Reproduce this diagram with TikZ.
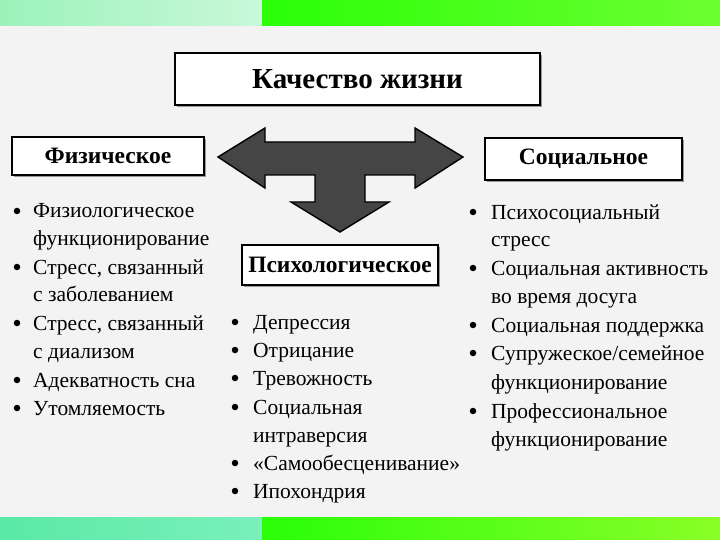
\documentclass[tikz,border=0pt]{standalone}
\usepackage{fontspec}
\setmainfont{Liberation Serif}
\usetikzlibrary{shadows}
\definecolor{bgc}{HTML}{F3F3F3}
\definecolor{mintA}{HTML}{9CF2BA}
\definecolor{mintB}{HTML}{C9F8DA}
\definecolor{limeA}{HTML}{2AFF08}
\definecolor{limeB}{HTML}{6CFF30}
\definecolor{tealA}{HTML}{5AE9A6}
\definecolor{tealB}{HTML}{7AF0BC}
\definecolor{arrowc}{HTML}{454545}
\tikzset{
  hbox/.style={draw=black, line width=1.6pt, fill=white, inner sep=0pt,
    font=\fontsize{23.5}{26}\selectfont\bfseries,
    drop shadow={shadow xshift=2pt, shadow yshift=-2pt, fill=gray!80, opacity=1}},
  item/.style={anchor=base west, inner sep=0pt, font=\fontsize{21.5}{24}\selectfont},
  dot/.style={circle, fill=black, inner sep=0pt, minimum size=6.5pt}
}
\begin{document}
\begin{tikzpicture}[x=1pt,y=-1pt]
\useasboundingbox (0,0) rectangle (720,540);
\fill[bgc] (0,0) rectangle (720,540);
% green bands
\shade[left color=mintA, right color=mintB] (0,0) rectangle (262,26);
\shade[left color=limeA, right color=limeB] (262,0) rectangle (720,26);
\shade[left color=tealA, right color=tealB] (0,517) rectangle (262,540);
\shade[left color=limeA, right color=limeB!80!yellow] (262,517) rectangle (720,540);

% boxes
\node[hbox, minimum width=365pt, minimum height=52pt, font=\fontsize{29}{32}\selectfont\bfseries] (main) at (357.5,79) {Качество жизни};
\node[hbox, minimum width=192pt, minimum height=38pt] (phys) at (108,156) {Физическое};
\node[hbox, minimum width=197pt, minimum height=42pt] (soc) at (583.5,159) {Социальное};
\node[hbox, minimum width=196pt, minimum height=40pt] (psy) at (340,265) {Психологическое};

% three-way arrow
\draw[fill=arrowc, line width=1.4pt, line join=miter]
  (218,157) -- (265,128) -- (265,142) -- (415,142) -- (415,128) -- (463,157)
  -- (415,188) -- (415,175) -- (365,175) -- (365,202) -- (389,202) -- (340,232)
  -- (291,202) -- (315,202) -- (315,175) -- (265,175) -- (265,188) -- cycle;

% left list
\foreach \t/\y/\b [count=\i] in {
  Физиологическое/211/1, функционирование/238/0,
  {Стресс, связанный}/267/1, с заболеванием/294/0,
  {Стресс, связанный}/323/1, с диализом/351/0,
  Адекватность сна/380/1, Утомляемость/408/1}{
  \node[item] (pl\i) at (33,\y+7) {\t};
  \ifnum\b=1 \node[dot] (pd\i) at (17,\y) {}; \fi
}
% psychological list
\foreach \t/\y/\b [count=\i] in {
  Депрессия/322/1, Отрицание/350/1, Тревожность/378/1,
  Социальная/407/1, интраверсия/435/0,
  «Самообесценивание»/463/1, Ипохондрия/491/1}{
  \node[item] (sl\i) at (253,\y+7) {\t};
  \ifnum\b=1 \node[dot] (sd\i) at (235,\y) {}; \fi
}
% social list
\foreach \t/\y/\b [count=\i] in {
  Психосоциальный/212/1, стресс/240/0,
  Социальная активность/268/1, во время досуга/296/0,
  Социальная поддержка/325/1,
  {Супружеское/семейное}/353/1, функционирование/382/0,
  Профессиональное/411/1, функционирование/439/0}{
  \node[item] (cl\i) at (491,\y+7) {\t};
  \ifnum\b=1 \node[dot] (cd\i) at (473,\y) {}; \fi
}
\end{tikzpicture}
\end{document}
